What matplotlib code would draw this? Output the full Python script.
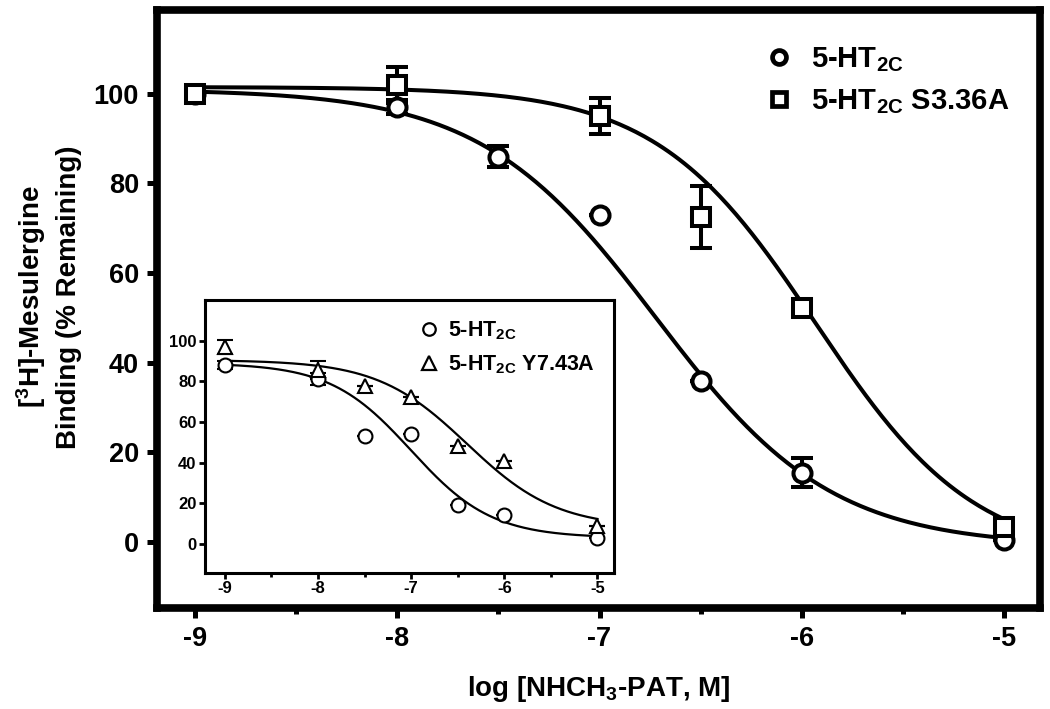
import numpy as np
import matplotlib
matplotlib.use("Agg")
import matplotlib.pyplot as plt
from matplotlib.lines import Line2D

plt.rcParams["font.family"] = ["Liberation Sans", "DejaVu Sans"]
plt.rcParams["font.weight"] = "bold"
plt.rcParams["mathtext.fontset"] = "custom"
plt.rcParams["mathtext.rm"] = "Liberation Sans:bold"
plt.rcParams["mathtext.bf"] = "Liberation Sans:bold"
plt.rcParams["mathtext.default"] = "rm"
plt.rcParams["axes.unicode_minus"] = False

# ---- main panel data: 5-HT2C vs 5-HT2C S3.36A ----
wt_x = [-9, -8, -7.5, -7, -6.5, -6, -5]
wt_y = [100, 97, 86, 73, 36, 15.5, 0.5]
wt_err = [1, 1.5, 2.3, 0, 0, 3.3, 0]

s336_x = [-9, -8, -7, -6.5, -6, -5]
s336_y = [100, 102, 95, 72.5, 52.2, 3.3]
s336_err = [1.5, 4, 4, 7, 0, 1]

# fitted sigmoid parameters (top, bottom, logIC50, hill)
wt_fit = (101, -1, -6.72, 1.0)
s336_fit = (101.5, -4, -5.93, 1.1)

# ---- inset data: 5-HT2C vs 5-HT2C Y7.43A ----
in_wt_x = [-9, -8, -7.5, -7, -6.5, -6, -5]
in_wt_y = [88, 81, 53, 54, 19, 14, 3]
in_wt_err = [2, 3, 0, 0, 0, 0, 0]

y743_x = [-9, -8, -7.5, -7, -6.5, -6, -5]
y743_y = [97, 85.7, 77.5, 72.5, 48, 41, 9]
y743_err = [3.5, 4.5, 0, 0, 0, 0, 0]

in_wt_fit = (89, 3, -7.0, 1.0)
y743_fit = (90.5, 8, -6.4, 0.9)


def sigmoid(x, top, bottom, logic50, hill):
    return bottom + (top - bottom) / (1 + 10 ** ((x - logic50) * hill))


fig = plt.figure(figsize=(10.5, 7.09), dpi=100)
ax = fig.add_axes([0.1495, 0.1425, 0.841, 0.8435])

xs = np.linspace(-9, -5, 300)
ax.plot(xs, sigmoid(xs, *wt_fit), color="black", lw=2.9, zorder=2)
ax.plot(xs, sigmoid(xs, *s336_fit), color="black", lw=2.9, zorder=2)

ax.errorbar(wt_x, wt_y, yerr=wt_err, fmt="o", ms=13, mfc="white", mec="black",
            mew=2.9, ecolor="black", elinewidth=2.9, capsize=8, capthick=2.9,
            zorder=3)
ax.errorbar(s336_x, s336_y, yerr=s336_err, fmt="s", ms=13, mfc="white", mec="black",
            mew=2.9, ecolor="black", elinewidth=2.9, capsize=8, capthick=2.9,
            zorder=3)

ax.set_xlim(-9.19, -4.82)
ax.set_ylim(-14.7, 118.7)
ax.set_xticks([-9, -8, -7, -6, -5])
ax.set_xticks([-8.5, -7.5, -6.5, -5.5], minor=True)
ax.set_yticks([0, 20, 40, 60, 80, 100])
for s in ax.spines.values():
    s.set_linewidth(5.5)
ax.tick_params(axis="both", which="major", length=7, width=3.6, labelsize=19.5, pad=6)
ax.tick_params(axis="x", which="minor", length=4.5, width=3.6)
ax.set_xlabel("log [NHCH$_3$-PAT, M]", fontsize=20, fontweight="bold", labelpad=16)
ax.set_ylabel("[$^3$H]-Mesulergine\nBinding (% Remaining)", fontsize=20,
              fontweight="bold", linespacing=1.4)
ax.yaxis.set_label_coords(-0.085, 0.52)

main_handles = [
    Line2D([], [], ls="none", marker="o", ms=10, mfc="white", mec="black", mew=3.4),
    Line2D([], [], ls="none", marker="s", ms=10, mfc="white", mec="black", mew=3.4),
]
ax.legend(main_handles, ["5-HT$_{2C}$", "5-HT$_{2C}$ S3.36A"],
          loc="upper right", bbox_to_anchor=(0.995, 0.985), frameon=False,
          fontsize=21, handletextpad=0.6, labelspacing=0.45, handlelength=1.0)

# ---- inset ----
ins = fig.add_axes([0.195, 0.1918, 0.39, 0.385])
ins.plot(xs, sigmoid(xs, *in_wt_fit), color="black", lw=1.6, zorder=2)
ins.plot(xs, sigmoid(xs, *y743_fit), color="black", lw=1.6, zorder=2)
ins.errorbar(in_wt_x, in_wt_y, yerr=in_wt_err, fmt="o", ms=10, mfc="white", mec="black",
             mew=1.5, ecolor="black", elinewidth=1.6, capsize=5.5, capthick=1.6,
             zorder=3)
ins.errorbar(y743_x, y743_y, yerr=y743_err, fmt="^", ms=10.5, mfc="white", mec="black",
             mew=1.5, ecolor="black", elinewidth=1.6, capsize=5.5, capthick=1.6,
             zorder=3)
ins.set_xlim(-9.215, -4.82)
ins.set_ylim(-14.3, 120)
ins.set_xticks([-9, -8, -7, -6, -5])
ins.set_xticks([-8.5, -7.5, -6.5, -5.5], minor=True)
ins.set_yticks([0, 20, 40, 60, 80, 100])
for s in ins.spines.values():
    s.set_linewidth(2.2)
ins.tick_params(axis="both", which="major", length=4, width=2, labelsize=12, pad=2)
ins.tick_params(axis="x", which="minor", length=3, width=2)

in_handles = [
    Line2D([], [], ls="none", marker="o", ms=9, mfc="white", mec="black", mew=1.6),
    Line2D([], [], ls="none", marker="^", ms=9.5, mfc="white", mec="black", mew=1.6),
]
ins.legend(in_handles, ["5-HT$_{2C}$", "5-HT$_{2C}$ Y7.43A"],
           loc="upper right", bbox_to_anchor=(1.0, 1.0), frameon=False,
           fontsize=15.5, handletextpad=0.4, labelspacing=0.55, handlelength=1.0)

plt.savefig("out.png", dpi=100)
